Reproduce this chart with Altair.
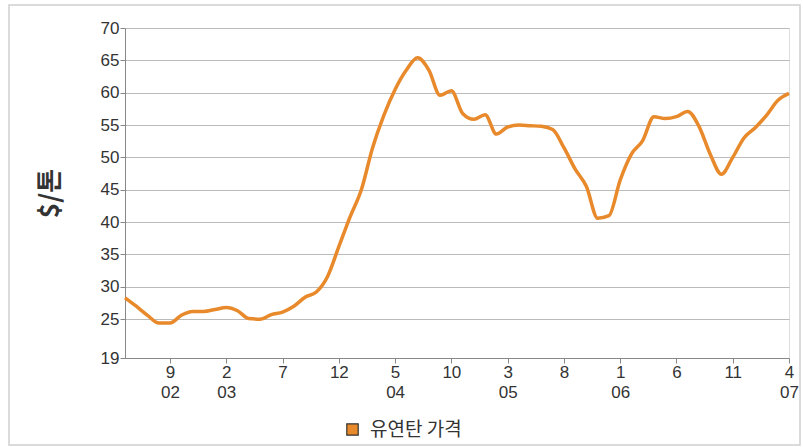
import altair as alt
import pandas as pd

# Monthly price, May 2002 .. Apr 2007 ($/ton)
months = [f"{y}-{m:02d}" for y in range(2002, 2008) for m in range(1, 13)]
months = months[months.index("2002-05"): months.index("2007-04") + 1]
prices = [28.3, 27.0, 25.6, 24.4, 24.4, 25.6, 26.2, 26.2, 26.5, 26.8,
          26.3, 25.1, 25.0, 25.7, 26.1, 27.0, 28.4, 29.2, 31.6, 36.2,
          40.8, 45.0, 51.5, 56.5, 60.5, 63.5, 65.4, 63.5, 59.6, 60.3,
          56.8, 55.9, 56.6, 53.6, 54.7, 55.0, 54.9, 54.8, 54.3, 51.5,
          48.2, 45.5, 40.6, 41.0, 46.5, 50.5, 52.6, 56.3, 56.0, 56.3,
          57.1, 54.8, 50.5, 47.4, 50.0, 53.0, 54.6, 56.5, 58.8, 59.9]
series_name = "유연탄 가격"

tick_months = ["2002-09", "2003-02", "2003-07", "2003-12", "2004-05", "2004-10",
               "2005-03", "2005-08", "2006-01", "2006-06", "2006-11", "2007-04"]
tick_line1 = ["9", "2", "7", "12", "5", "10", "3", "8", "1", "6", "11", "4"]
tick_line2 = ["02", "03", "", "", "04", "", "05", "", "06", "", "", "07"]
y_ticks = [19, 25, 30, 35, 40, 45, 50, 55, 60, 65, 70]

ORANGE = "#E8892B"

df = pd.DataFrame({"t": list(range(len(prices))), "month": months,
                   "price": prices, "series": series_name})
tick_idx = [months.index(m) for m in tick_months]

label_arr = "[" + ",".join(f"['{a}','{b}']" for a, b in zip(tick_line1, tick_line2)) + "]"
idx_arr = "[" + ",".join(str(i) for i in tick_idx) + "]"
label_expr = f"{label_arr}[indexof({idx_arr}, datum.value)]"

x_scale = alt.Scale(domain=[0, len(prices) - 1], nice=False, zero=False)
y_scale = alt.Scale(domain=[19, 70], nice=False, zero=False)

x_axis = alt.Axis(values=tick_idx, labelExpr=label_expr, title=None,
                  grid=False, labelFontSize=17, labelColor="#333",
                  labelFont="Liberation Sans", labelLineHeight=20,
                  labelOverlap=False, labelFlush=False,
                  tickSize=5, tickColor="#888", domainColor="#888",
                  labelPadding=1, labelBaseline="top")
y_axis = alt.Axis(values=y_ticks, title="$/톤", titleFontSize=26,
                  titleFont="Noto Sans CJK KR", titleFontWeight="bold",
                  titleColor="#333", titleX=-75, titleY=165,
                  titleAngle=270, titleAlign="center", titleBaseline="middle",
                  labelFontSize=17, labelColor="#333",
                  labelOverlap=False, labelFlush=False,
                  labelFont="Liberation Sans", labelPadding=1,
                  gridColor="#bbb", tickSize=5, tickColor="#888",
                  domainColor="#888")

def xe():
    return alt.X("t:Q", scale=x_scale, axis=x_axis)

def ye():
    return alt.Y("price:Q", scale=y_scale, axis=y_axis)

line = alt.Chart(df).mark_line(strokeWidth=3.5, interpolate="monotone",
                               color=ORANGE).encode(x=xe(), y=ye())

# zero-size squares carry the legend (filled square with dark border)
legend_layer = alt.Chart(df).mark_square(size=0, stroke="#333", strokeWidth=1.2,
                                         opacity=1).encode(
    x=xe(), y=ye(),
    fill=alt.Fill("series:N",
                  scale=alt.Scale(domain=[series_name], range=[ORANGE]),
                  legend=alt.Legend(title=None, orient="none", legendX=218,
                                    legendY=392, symbolType="square",
                                    symbolSize=130, symbolStrokeColor="#333",
                                    symbolStrokeWidth=1.2, symbolOpacity=1,
                                    labelFont="Noto Sans CJK KR", labelOffset=8,
                                    labelFontSize=19, labelColor="#333")),
)

frame = alt.Chart(pd.DataFrame({"a": [0]})).mark_rect(
    fill=None, stroke="#d0d0d0", strokeWidth=1.5).encode(
    x=alt.value(-116), x2=alt.value(675), y=alt.value(-23), y2=alt.value(417))

chart = alt.layer(frame, line, legend_layer).properties(
    width=664, height=330,
    autosize=alt.AutoSizeParams(type="none"),
    padding={"left": 125, "top": 28, "right": 14, "bottom": 89},
).configure_view(stroke="#888").configure(background="white")

chart.save("out.html", embed_options={"renderer": "svg", "actions": False})
